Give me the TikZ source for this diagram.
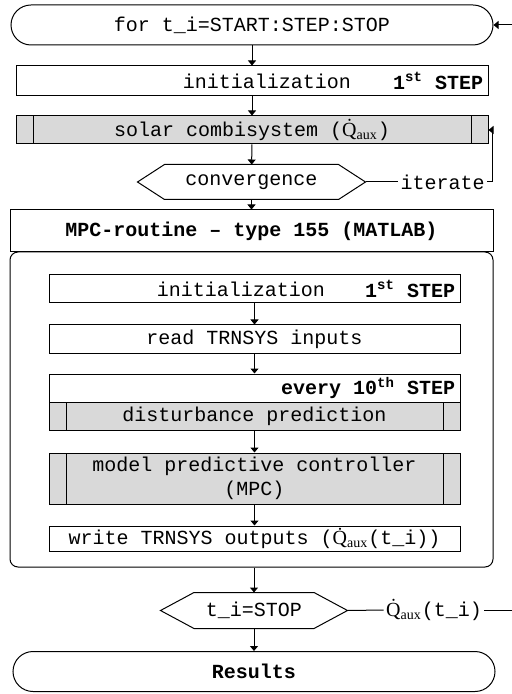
\documentclass[tikz,border=0pt]{standalone}
\usepackage{fontspec}
\setmainfont{Liberation Serif}
\setmonofont{Liberation Mono}
\usetikzlibrary{arrows.meta,positioning}
\newcommand{\qaux}{{\rmfamily\.{Q}\textsubscript{aux}}}

\begin{document}
\begin{tikzpicture}[x=0.5pt,y=-0.5pt,line width=0.5pt,
 every node/.style={font=\ttfamily\fontsize{10}{12}\selectfont,align=center,inner sep=2.5pt},
 box/.style={draw,minimum height=14pt,inner sep=0pt},
 proc/.style={box,fill=black!15,path picture={
   \draw ([xshift=8.5pt]path picture bounding box.north west)--([xshift=8.5pt]path picture bounding box.south west)
         ([xshift=-8.5pt]path picture bounding box.north east)--([xshift=-8.5pt]path picture bounding box.south east);}},
 term/.style={draw,rounded corners=10pt,minimum width=241pt,minimum height=20pt},
 dec/.style={minimum height=17pt},
 arr/.style={-{Triangle[length=2.5pt,width=4pt]}}]
\useasboundingbox (0,0) rectangle (512,694);
% outer loop
\node[term] (loop) at (252,25) {for t\_i=START:STEP:STOP};
\node[box,minimum width=236pt,minimum height=15pt] (init) at (252,81) {};
\node (inittxt) at (267,81) {initialization};
\node[anchor=east] (initstep) at (init.east) {\textbf{1\textsuperscript{st} STEP}};
\node[proc,minimum width=236pt] (solar) at (252,130) {solar combisystem (\qaux)};
\node[dec,minimum width=113.5pt] (conv) at (251.5,182) {convergence};
\node[inner sep=1pt] (iter) at (442.5,182) {iterate};
% MPC routine
\node[box,minimum width=241.5pt,minimum height=21pt] (mpc) at (251.5,231) {\textbf{MPC-routine – type 155 (MATLAB)}};
\node[draw,rounded corners=4pt,minimum width=241.5pt,minimum height=157.5pt] (cont) at (251.5,409.5) {};
\node[box,minimum width=205.5pt] (init2) at (254.5,289) {};
\node (init2txt) at (241,289) {initialization};
\node[anchor=east] (init2step) at (init2.east) {\textbf{1\textsuperscript{st} STEP}};
\node[box,minimum width=205.5pt] (read) at (254.5,339) {read TRNSYS inputs};
\node[box,minimum width=205.5pt] (every) at (254.5,388) {};
\node[anchor=east] (everystep) at (every.east) {\textbf{every 10\textsuperscript{th} STEP}};
\node[proc,minimum width=205.5pt] (dist) at (254.5,416) {disturbance prediction};
\node[proc,minimum width=205.5pt,minimum height=25.5pt] (mpcc) at (254.5,478.5) {model predictive controller\\(MPC)};
\node[box,minimum width=205.5pt,minimum height=12.5pt] (write) at (254.5,538.5) {write TRNSYS outputs (\qaux(t\_i))};
% end of loop
\node[dec,minimum width=93pt,minimum height=17.5pt] (stop) at (254,610.5) {t\_i=STOP};
\node[inner sep=1pt] (qout) at (434,610) {\qaux(t\_i)};
\node[term] (res) at (254,671.5) {\textbf{Results}};
\foreach \n/\d in {conv/13.5pt,stop/16.75pt}
  \draw (\n.west)--([xshift=\d]\n.north west)--([xshift=-\d]\n.north east)--(\n.east)
    --([xshift=-\d]\n.south east)--([xshift=\d]\n.south west)--cycle;
\draw[arr] (loop)--(init);\draw[arr] (init)--(solar);\draw[arr] (solar)--(conv);
\draw[arr] (conv)--(mpc);
\draw (conv.east)--(iter.west);
\draw[arr] (iter.east)--++(5,0)|-(solar.east);
\draw[arr] (init2)--(read);\draw[arr] (read)--(every);
\draw[arr] (dist)--(mpcc);\draw[arr] (mpcc)--(write);
\draw[arr] (cont.south -| stop)--(stop);\draw[arr] (stop)--(res);
\draw (stop.east)--(qout.west);
\draw[arr] (qout.east)--++(60,0)|-(loop.east);
\end{tikzpicture}
\end{document}
